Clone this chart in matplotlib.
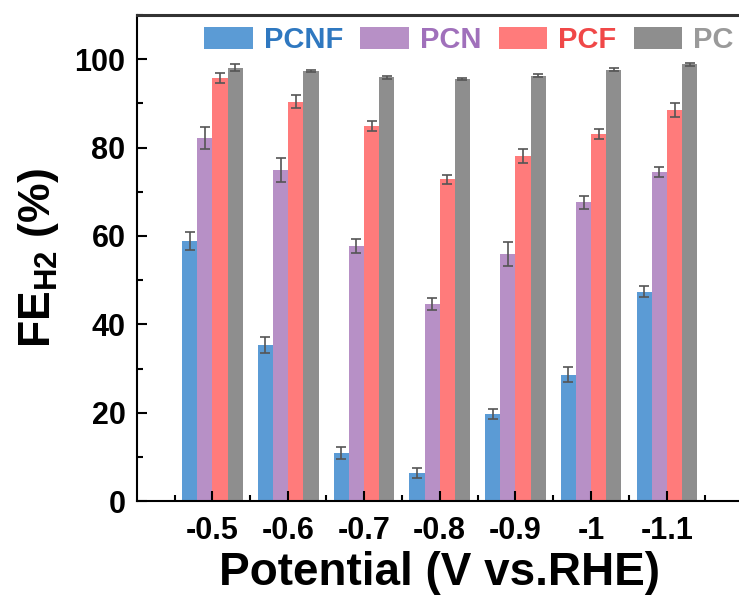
import numpy as np
import matplotlib
matplotlib.use("Agg")
import matplotlib.pyplot as plt
from matplotlib.ticker import MultipleLocator

plt.rcParams['font.family'] = ['Liberation Sans', 'DejaVu Sans']
plt.rcParams['font.weight'] = 'bold'
plt.rcParams['mathtext.fontset'] = 'custom'
plt.rcParams['mathtext.bf'] = 'Liberation Sans:bold'
plt.rcParams['mathtext.rm'] = 'Liberation Sans:bold'

potentials = ["-0.5", "-0.6", "-0.7", "-0.8", "-0.9", "-1", "-1.1"]
series = ["PCNF", "PCN", "PCF", "PC"]

pcnf = [58.9, 35.3, 10.9, 6.4, 19.7, 28.6, 47.4]
pcn = [82.2, 74.9, 57.7, 44.6, 56.0, 67.6, 74.5]
pcf = [95.7, 90.4, 84.8, 72.8, 78.0, 83.1, 88.4]
pc = [98.1, 97.3, 95.9, 95.5, 96.3, 97.6, 98.8]

pcnf_err = [2.0, 1.8, 1.3, 1.2, 1.2, 1.7, 1.2]
pcn_err = [2.5, 2.7, 1.5, 1.3, 2.7, 1.5, 1.1]
pcf_err = [1.2, 1.4, 1.1, 1.1, 1.6, 1.2, 1.6]
pc_err = [0.7, 0.3, 0.3, 0.3, 0.3, 0.3, 0.3]

bar_colors = ["#5b9bd5", "#b790c6", "#ff7b7b", "#8e8e8e"]
text_colors = ["#2f78c0", "#a070bb", "#f04848", "#9a9a9a"]

fig = plt.figure(figsize=(7.39, 5.98), dpi=100)
ax = fig.add_axes([0.185, 0.162, 0.82, 0.813])

x = np.arange(len(potentials))
w = 0.2
vals = [pcnf, pcn, pcf, pc]
errs = [pcnf_err, pcn_err, pcf_err, pc_err]
for i, (v, e) in enumerate(zip(vals, errs)):
    ax.bar(x + (i - 1.5) * w, v, w, yerr=e, color=bar_colors[i], label=series[i],
           error_kw=dict(ecolor="#555555", elinewidth=1.2, capsize=3.5, capthick=1.2))

ax.set_xlim(-1, 7)
ax.set_ylim(0, 110)
ax.set_xticks(x)
ax.set_xticklabels(potentials)
ax.xaxis.set_minor_locator(MultipleLocator(1, offset=0.5))
ax.set_yticks([0, 20, 40, 60, 80, 100])
ax.yaxis.set_minor_locator(MultipleLocator(10))
ax.tick_params(which='major', direction='in', length=7, width=1.5, labelsize=22, pad=8)
ax.tick_params(axis='x', which='major', pad=11)
ax.tick_params(which='minor', direction='in', length=4, width=1.5)
ax.tick_params(axis='x', which='both', top=False)
ax.tick_params(axis='y', which='both', right=False)
for s in ax.spines.values():
    s.set_linewidth(1.5)
ax.spines['top'].set_linewidth(2.2)
ax.spines['top'].set_color('#333333')

ax.set_xlabel("Potential (V vs.RHE)", fontsize=33, fontweight='bold')
ax.xaxis.set_label_coords(0.5, -0.103)
ax.set_ylabel(r"FE$_{\mathbf{H2}}$ (%)", fontsize=32, fontweight='bold', labelpad=10)

leg = ax.legend(loc='upper center', bbox_to_anchor=(0.548, 1.025), ncol=4, frameon=False,
                handlelength=1.65, handleheight=0.75, handletextpad=0.38,
                columnspacing=0.6, borderpad=0.3, prop={'weight': 'bold', 'size': 21})
for t, c in zip(leg.get_texts(), text_colors):
    t.set_color(c)

fig.savefig("out.png", dpi=100)
